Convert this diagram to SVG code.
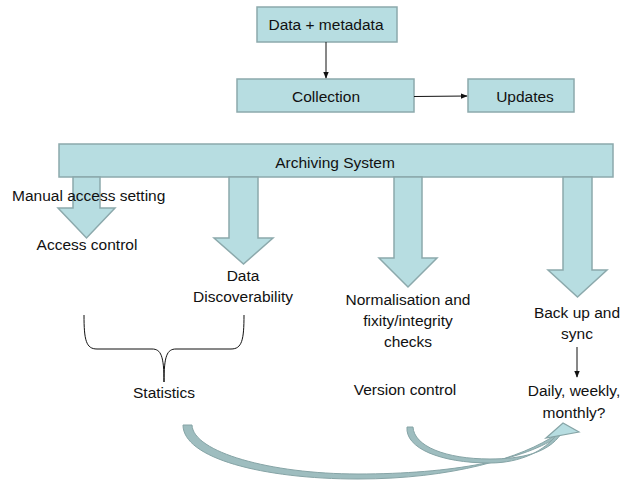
<svg xmlns="http://www.w3.org/2000/svg" width="624" height="480" viewBox="0 0 624 480">
<defs>
<style>
.box{fill:#b7dde1;stroke:#8ca9ac;stroke-width:1.5}
.blk{fill:#b7dde1;stroke:#8ca9ac;stroke-width:1.5;stroke-linejoin:miter}
.t{font-family:"Liberation Sans",Arial,sans-serif;font-size:15.5px;fill:#111}
.m{text-anchor:middle}
.ln{stroke:#111;stroke-width:1;fill:none}
.crv{fill:#9ebdbf;stroke:#86a4a6;stroke-width:1}
</style>
<marker id="ah" viewBox="0 0 10 10" refX="9" refY="5" markerWidth="7" markerHeight="7" markerUnits="userSpaceOnUse" orient="auto">
<path d="M0,1 L10,5 L0,9 Z" fill="#111"/>
</marker>
</defs>
<rect width="624" height="480" fill="#fff"/>

<g id="data-metadata">
<rect class="box" x="257" y="7" width="140" height="35"/>
<text class="t m" x="326" y="30">Data + metadata</text>
</g>
<g id="collection">
<rect class="box" x="237" y="79" width="177" height="33"/>
<text class="t m" x="326" y="102">Collection</text>
</g>
<g id="updates">
<rect class="box" x="468" y="79" width="106" height="33"/>
<text class="t m" x="525" y="102">Updates</text>
</g>

<g id="archiving-system">
<rect class="box" x="59" y="144" width="554" height="33"/>
<text class="t m" x="335" y="168">Archiving System</text>
</g>

<g id="connectors">
<line class="ln" x1="326" y1="42" x2="326" y2="78" marker-end="url(#ah)"/>
<line class="ln" x1="414" y1="96.5" x2="467" y2="96" marker-end="url(#ah)"/>
<line class="ln" x1="577" y1="347" x2="577" y2="377" marker-end="url(#ah)"/>
<polygon class="blk" points="73,177 100,177 100,208 115,208 86.5,238 58,208 73,208"/>
<polygon class="blk" points="229,177 258,177 258,238 273,238 243.5,264 214,238 229,238"/>
<polygon class="blk" points="394,177 422,177 422,258 437,258 408,287 379,258 394,258"/>
<polygon class="blk" points="563,177 592,177 592,270 607,270 577.5,297 548,270 563,270"/>
<path class="ln" d="M84,315 C84,340 86,349 97,349 L152,349 C161,349 164,356 164,382 C164,356 167,349 176,349 L231,349 C242,349 244,340 244,315" stroke="#333"/>
<path class="crv" d="M183,425 C183,458 262,479 358,479 C452,479 522,458 557,434 L560,435 C526,460 452,474 358,474 C270,474 193,452 192,425 Z"/>
<path class="crv" d="M407,427 C405,448 440,463 490,463 C520,463 545,451 557,434 L561,434 C548,453 522,459 490,459 C445,459 414,446 413,427 Z"/>
<polygon points="546,438 563,423 579,432" fill="#b7dde1" stroke="#86a4a6" stroke-width="1.2"/>
</g>

<g id="manual-access-setting"><text class="t" x="12" y="201">Manual access setting</text></g>
<g id="access-control"><text class="t m" x="87" y="250">Access control</text></g>
<g id="data-discoverability">
<text class="t m" x="243" y="281">Data</text>
<text class="t m" x="243" y="302">Discoverability</text>
</g>
<g id="normalisation">
<text class="t m" x="408" y="305">Normalisation and</text>
<text class="t m" x="408" y="326">fixity/integrity</text>
<text class="t m" x="408" y="347">checks</text>
</g>
<g id="backup">
<text class="t m" x="577" y="318">Back up and</text>
<text class="t m" x="577" y="339">sync</text>
</g>
<g id="statistics"><text class="t m" x="164" y="398">Statistics</text></g>
<g id="version-control"><text class="t m" x="405" y="395">Version control</text></g>
<g id="schedule">
<text class="t m" x="574" y="396">Daily, weekly,</text>
<text class="t m" x="574" y="418">monthly?</text>
</g>
</svg>
